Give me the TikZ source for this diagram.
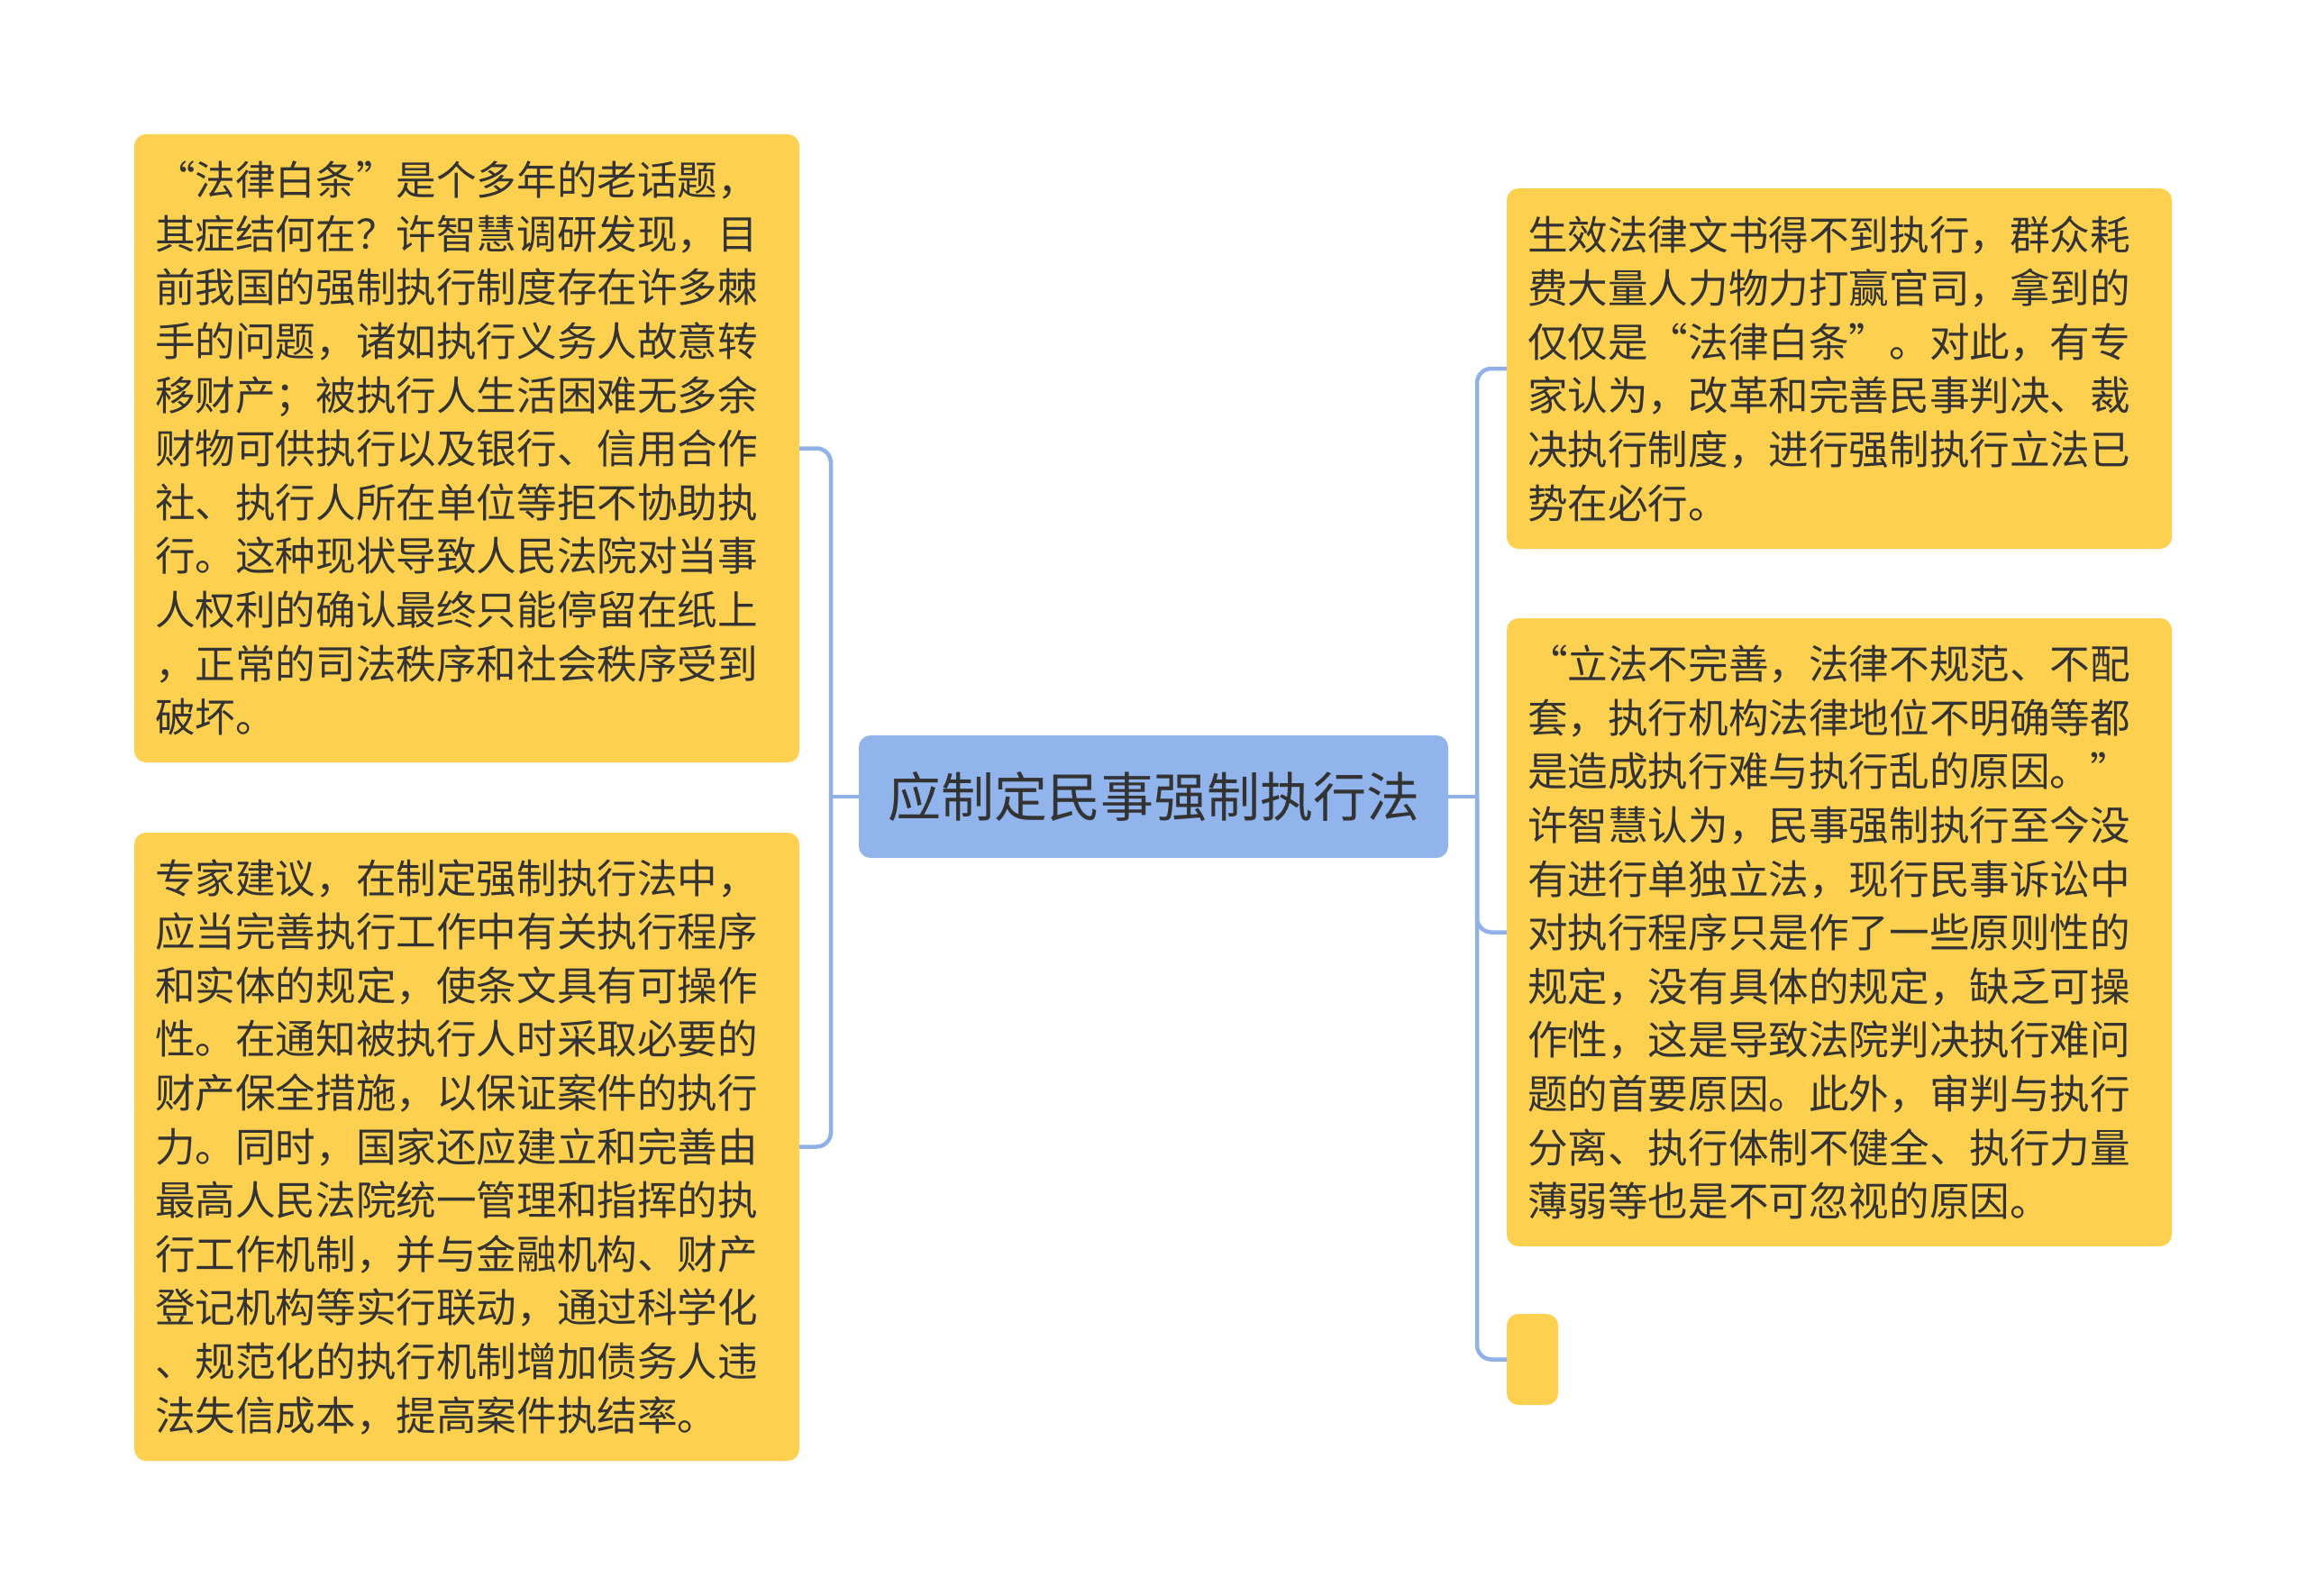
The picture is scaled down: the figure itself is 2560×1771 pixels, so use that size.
\documentclass[tikz,border=0pt]{standalone}
\usepackage{fontspec}
\setmainfont{Noto Sans CJK SC}[RawFeature=+fwid]
\definecolor{boxyellow}{HTML}{FDD14F}
\definecolor{centerblue}{HTML}{91B4EC}
\definecolor{linkblue}{HTML}{8FB1E8}
\definecolor{txt}{HTML}{333333}
\tikzset{
  leaf/.style={fill=boxyellow, rounded corners=13pt, text=txt, inner xsep=23pt, inner ysep=0pt,
    align=left, text width=692pt, minimum width=738pt, font=\fontsize{44.6}{59.6}\selectfont},
  rootbox/.style={fill=centerblue, rounded corners=13pt, text=txt, inner sep=0pt,
    minimum width=654pt, minimum height=136pt, font=\fontsize{59}{70}\selectfont},
  emptyleaf/.style={fill=boxyellow, rounded corners=13pt, inner sep=0pt, minimum width=57pt, minimum height=101pt},
  link/.style={draw=linkblue, line width=4.5pt, rounded corners=16pt}
}
\begin{document}
\begin{tikzpicture}[x=1pt, y=-1pt]
\useasboundingbox (0,0) rectangle (2560,1771);
\coordinate (jl) at (922,884);
\coordinate (jr) at (1639,884);
\node[rootbox] (root) at (1280,884) {应制定民事强制执行法};
\node[leaf, minimum height=697pt] (lt) at (518,497.5) {“法律白条”是个多年的老话题，\\其症结何在？许智慧调研发现，目\\前我国的强制执行制度存在许多棘\\手的问题，诸如执行义务人故意转\\移财产；被执行人生活困难无多余\\财物可供执行以及银行、信用合作\\社、执行人所在单位等拒不协助执\\行。这种现状导致人民法院对当事\\人权利的确认最终只能停留在纸上\\，正常的司法秩序和社会秩序受到\\破坏。};
\node[leaf, minimum height=697pt] (lb) at (518,1272.5) {专家建议，在制定强制执行法中，\\应当完善执行工作中有关执行程序\\和实体的规定，使条文具有可操作\\性。在通知被执行人时采取必要的\\财产保全措施，以保证案件的执行\\力。同时，国家还应建立和完善由\\最高人民法院统一管理和指挥的执\\行工作机制，并与金融机构、财产\\登记机构等实行联动，通过科学化\\、规范化的执行机制增加债务人违\\法失信成本，提高案件执结率。};
\node[leaf, minimum height=400pt] (rt) at (2041,409) {生效法律文书得不到执行，群众耗\\费大量人力物力打赢官司，拿到的\\仅仅是“法律白条”。对此，有专\\家认为，改革和完善民事判决、裁\\决执行制度，进行强制执行立法已\\势在必行。};
\node[leaf, minimum height=697pt] (rm) at (2041,1034.5) {“立法不完善，法律不规范、不配\\套，执行机构法律地位不明确等都\\是造成执行难与执行乱的原因。”\\许智慧认为，民事强制执行至今没\\有进行单独立法，现行民事诉讼中\\对执行程序只是作了一些原则性的\\规定，没有具体的规定，缺乏可操\\作性，这是导致法院判决执行难问\\题的首要原因。此外，审判与执行\\分离、执行体制不健全、执行力量\\薄弱等也是不可忽视的原因。};
\node[emptyleaf] (rs) at (1700.5,1508.5) {};
\begin{scope}[on background layer/.try]
\end{scope}
\draw[link] (root.west) -- (jl);
\draw[link] (lt.east) -| (jl) |- (lb.east);
\draw[link] (root.east) -- (jr);
\draw[link] (rt.west) -| (jr) |- (rs.west);
\draw[link] (jr) |- (rm.west);
\end{tikzpicture}
\end{document}
